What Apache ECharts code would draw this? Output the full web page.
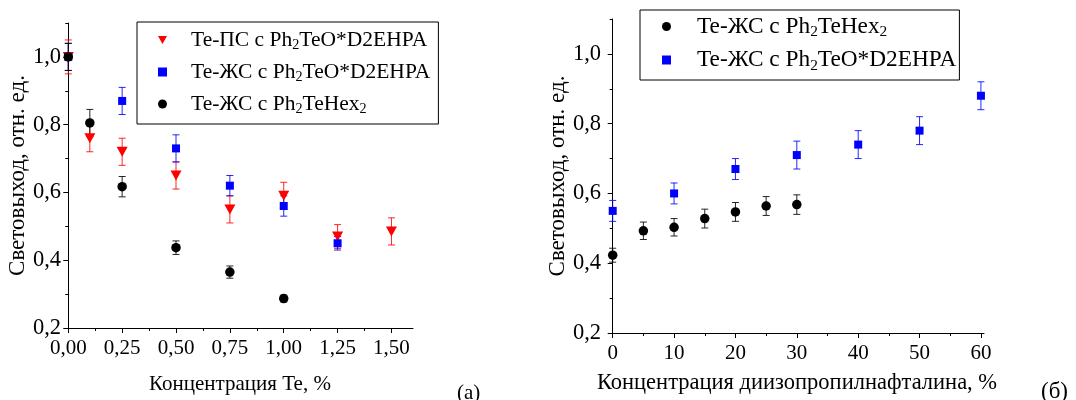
<!DOCTYPE html>
<html>
<head>
<meta charset="utf-8">
<script src="https://cdn.jsdelivr.net/npm/echarts@6/dist/echarts.min.js"></script>
<style>
html, body { margin: 0; padding: 0; background: #fff; }
#chart { width: 1076px; height: 400px; }
</style>
</head>
<body>
<div id="chart"></div>
<script>
// (a) light yield vs Te concentration, %
const psX = [0, 0.1, 0.25, 0.5, 0.75, 1.0, 1.25, 1.5];
const psY = [1.0, 0.76, 0.72, 0.65, 0.55, 0.59, 0.47, 0.485];
const psErr = [0.05, 0.04, 0.04, 0.04, 0.04, 0.04, 0.035, 0.04];

const zsX = [0, 0.25, 0.5, 0.75, 1.0, 1.25];
const zsY = [1.0, 0.87, 0.73, 0.62, 0.56, 0.45];
const zsErr = [0.04, 0.04, 0.04, 0.03, 0.03, 0.02];

const hexX = [0, 0.1, 0.25, 0.5, 0.75, 1.0];
const hexY = [1.0, 0.805, 0.617, 0.437, 0.365, 0.287];
const hexErr = [0.04, 0.04, 0.03, 0.02, 0.018, 0.01];

// (б) light yield vs diisopropylnaphthalene concentration, %
const hex2X = [0, 5, 10, 15, 20, 25, 30];
const hex2Y = [0.423, 0.493, 0.503, 0.528, 0.547, 0.564, 0.568];
const hex2Err = [0.02, 0.025, 0.025, 0.027, 0.027, 0.027, 0.028];

const zs2X = [0, 10, 20, 30, 40, 50, 60];
const zs2Y = [0.55, 0.60, 0.67, 0.71, 0.74, 0.78, 0.88];
const zs2Err = [0.03, 0.03, 0.03, 0.04, 0.04, 0.04, 0.04];

// ticks
const aXTicks = [0, 0.25, 0.5, 0.75, 1.0, 1.25, 1.5];
const aXMinor = [0.125, 0.375, 0.625, 0.875, 1.125, 1.375];
const bXTicks = [0, 10, 20, 30, 40, 50, 60];
const bXMinor = [5, 15, 25, 35, 45, 55];
const yTicks = [0.2, 0.4, 0.6, 0.8, 1.0];
const yMinor = [0.3, 0.5, 0.7, 0.9, 1.1];

const nPS = 'Te-ПС с Ph2TeO*D2EHPA';
const nZS = 'Te-ЖС с Ph2TeO*D2EHPA';
const nHex = 'Te-ЖС с Ph2TeHex2';

const FONT = '"Liberation Serif", "Times New Roman", serif';
const RED = '#ff0000', BLUE = '#0000ff', BLACK = '#000000';
const TRI = 'path://M0,0L10,0L5,9Z';

const chart = echarts.init(document.getElementById('chart'));

function pts(xs, ys) {
	return xs.map((x, i) => [x, ys[i]]);
}
function errs(xs, ys, es) {
	return xs.map((x, i) => [x, ys[i] - es[i], ys[i] + es[i]]);
}
function errSeries(xs, ys, es, color, idx) {
	return {
		type: 'custom',
		xAxisIndex: idx * 2,
		yAxisIndex: idx * 2,
		z: 1,
		silent: true,
		data: errs(xs, ys, es),
		renderItem: function (params, api) {
			const lo = api.coord([api.value(0), api.value(1)]);
			const hi = api.coord([api.value(0), api.value(2)]);
			const w = 3.5;
			const st = { stroke: color, lineWidth: 1, opacity: 0.85 };
			return {
				type: 'group',
				children: [
					{ type: 'line', shape: { x1: lo[0], y1: lo[1], x2: hi[0], y2: hi[1] }, style: st },
					{ type: 'line', shape: { x1: lo[0] - w, y1: lo[1], x2: lo[0] + w, y2: lo[1] }, style: st },
					{ type: 'line', shape: { x1: hi[0] - w, y1: hi[1], x2: hi[0] + w, y2: hi[1] }, style: st }
				]
			};
		}
	};
}
function dotSeries(name, xs, ys, color, symbol, size, idx) {
	return {
		name: name,
		type: 'scatter',
		xAxisIndex: idx * 2,
		yAxisIndex: idx * 2,
		z: 3,
		symbol: symbol,
		symbolSize: size,
		itemStyle: { color: color, opacity: 1 },
		data: pts(xs, ys)
	};
}

function xAxes(grid, min, max, ticks, minor, fmt, labelSize, name, nameSize, gap) {
	return [{
		type: 'value', gridIndex: grid, min: min, max: max, position: 'bottom',
		axisLine: { show: true, lineStyle: { color: BLACK, width: 1 } },
		axisTick: { show: true, customValues: ticks, length: 5, lineStyle: { color: BLACK } },
		axisLabel: { customValues: ticks, formatter: fmt, color: BLACK, fontFamily: FONT, fontSize: labelSize, margin: 10 },
		splitLine: { show: false },
		name: name, nameLocation: 'middle', nameGap: gap,
		nameTextStyle: { color: BLACK, fontFamily: FONT, fontSize: nameSize }
	}, {
		type: 'value', gridIndex: grid, min: min, max: max, position: 'bottom',
		axisLine: { show: false },
		axisTick: { show: true, customValues: minor, length: 3, lineStyle: { color: BLACK } },
		axisLabel: { show: false },
		splitLine: { show: false }
	}];
}
function yAxes(grid, margin, gap) {
	return [{
		type: 'value', gridIndex: grid, min: 0.2, max: 1.1, position: 'left',
		axisLine: { show: true, lineStyle: { color: BLACK, width: 1 } },
		axisTick: { show: true, customValues: yTicks, length: 5, lineStyle: { color: BLACK } },
		axisLabel: { customValues: yTicks, formatter: v => v.toFixed(1).replace('.', ','), color: BLACK, fontFamily: FONT, fontSize: 22.5, margin: margin },
		splitLine: { show: false },
		name: 'Световыход, отн. ед.', nameLocation: 'middle', nameGap: gap,
		nameTextStyle: { color: BLACK, fontFamily: FONT, fontSize: 23 }
	}, {
		type: 'value', gridIndex: grid, min: 0.2, max: 1.1, position: 'left',
		axisLine: { show: false },
		axisTick: { show: true, customValues: yMinor, length: 3, lineStyle: { color: BLACK } },
		axisLabel: { show: false },
		splitLine: { show: false }
	}];
}

function legendFmt(name) {
	return '{g|}{n|' + name.replace('Ph2', 'Ph}{s|2}{n|').replace(/Hex2$/, 'Hex}{s|2}{n|') + '}';
}
function legendRich(size, lh, gap) {
	return {
		g: { width: gap },
		n: { fontFamily: FONT, fontSize: size, lineHeight: lh, color: BLACK },
		s: { fontFamily: FONT, fontSize: size * 0.66, lineHeight: size * 0.66, verticalAlign: 'bottom', color: BLACK }
	};
}

const option = {
	animation: false,
	backgroundColor: '#fff',
	textStyle: { fontFamily: FONT },
	grid: [
		{ left: 67, top: 23, width: 346, height: 305 },
		{ left: 610, top: 19, width: 374, height: 314 }
	],
	xAxis: [].concat(
		xAxes(0, -0.006, 1.6, aXTicks, aXMinor, v => v.toFixed(2).replace('.', ','), 21, 'Концентрация Te, %', 21, 46),
		xAxes(1, -0.44, 60.5, bXTicks, bXMinor, v => String(Math.round(v)), 21, 'Концентрация диизопропилнафталина, %', 22.5, 39)
	),
	yAxis: [].concat(yAxes(0, 6, 38), yAxes(1, 9, 41)),
	legend: [{
		orient: 'vertical', left: 137, top: 22,
		padding: [7, 8, 8, 21],
		borderColor: BLACK, borderWidth: 1, borderRadius: 0,
		itemWidth: 9, itemHeight: 9, itemGap: 9,
		data: [nPS, nZS, nHex],
		formatter: legendFmt,
		textStyle: { fontFamily: FONT, rich: legendRich(21.5, 24, 19) }
	}, {
		orient: 'vertical', left: 640, top: 10,
		padding: [5, 3, 7, 22],
		borderColor: BLACK, borderWidth: 1, borderRadius: 0,
		itemWidth: 9, itemHeight: 9, itemGap: 9,
		data: [nHex, nZS],
		formatter: legendFmt,
		textStyle: { fontFamily: FONT, rich: legendRich(23.3, 26, 21) }
	}],
	graphic: [
		{ type: 'text', left: 457, top: 383, style: { text: '(a)', font: '21px "Liberation Serif"', fill: BLACK } },
		{ type: 'text', left: 1041, top: 380, style: { text: '(б)', font: '23px "Liberation Serif"', fill: BLACK } }
	],
	series: [
		errSeries(psX, psY, psErr, RED, 0),
		errSeries(zsX, zsY, zsErr, BLUE, 0),
		errSeries(hexX, hexY, hexErr, BLACK, 0),
		dotSeries(nPS, psX, psY, RED, TRI, [11, 10], 0),
		dotSeries(nZS, zsX, zsY, BLUE, 'rect', 8, 0),
		dotSeries(nHex, hexX, hexY, BLACK, 'circle', 9.5, 0),
		errSeries(hex2X, hex2Y, hex2Err, BLACK, 1),
		errSeries(zs2X, zs2Y, zs2Err, BLUE, 1),
		dotSeries(nHex, hex2X, hex2Y, BLACK, 'circle', 9.5, 1),
		dotSeries(nZS, zs2X, zs2Y, BLUE, 'rect', 8, 1)
	]
};

chart.setOption(option);
window.addEventListener('resize', () => {
	if (chart) {
		chart.resize();
	}
});
</script>
</body>
</html>
